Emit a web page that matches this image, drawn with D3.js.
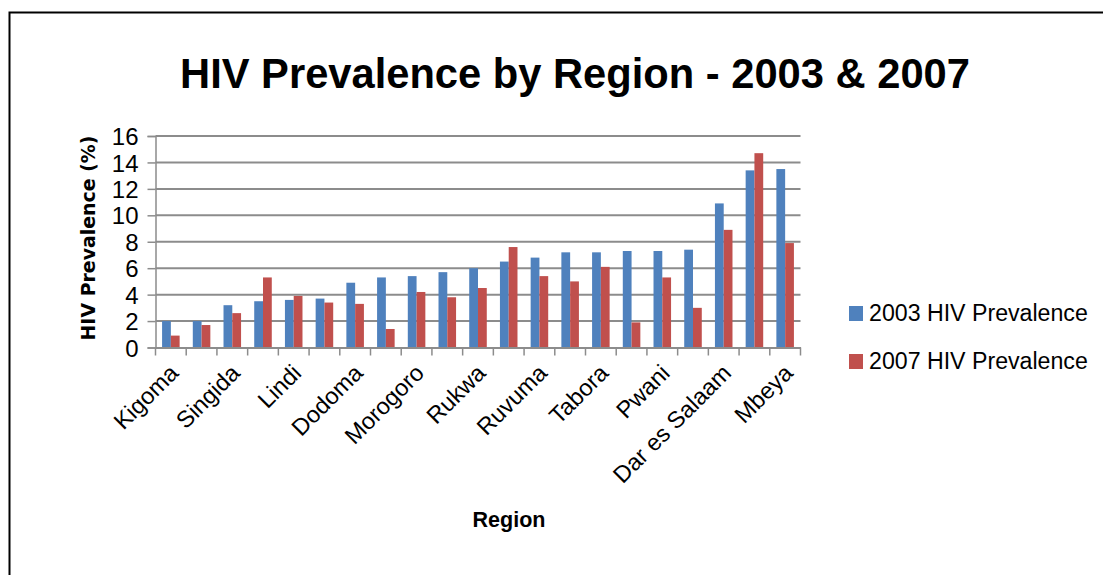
<!DOCTYPE html>
<html><head><meta charset="utf-8">
<script src="https://cdn.jsdelivr.net/npm/d3@7"></script>
<style>body{margin:0;background:#fff}svg{display:block}</style>
</head><body>
<svg id="chart" width="1103" height="575"></svg>
<script>
const regions = ["Kigoma","Manyara","Singida","Arusha","Lindi","Kagera","Dodoma","Mtwara","Morogoro","Tanga","Rukwa","Shinyanga","Ruvuma","Mwanza","Tabora","Kilimanjaro","Pwani","Mara","Dar es Salaam","Iringa","Mbeya"];
const shownLabels = ["Kigoma","Singida","Lindi","Dodoma","Morogoro","Rukwa","Ruvuma","Tabora","Pwani","Dar es Salaam","Mbeya"];
const prev2003 = [2.0,2.0,3.2,3.5,3.6,3.7,4.9,5.3,5.4,5.7,6.0,6.5,6.8,7.2,7.2,7.3,7.3,7.4,10.9,13.4,13.5];
const prev2007 = [0.9,1.7,2.6,5.3,3.9,3.4,3.3,1.4,4.2,3.8,4.5,7.6,5.4,5.0,6.1,1.9,5.3,3.0,8.9,14.7,7.9];
const seriesNames = ["2003 HIV Prevalence","2007 HIV Prevalence"];
const yTicks = [0,2,4,6,8,10,12,14,16];
const colors = ["#4F81BD","#C0504D"];

(function(){
const svg = d3.select("#chart");
const FONT = "'Liberation Sans', Arial, sans-serif";
const pL = 155.5, pR = 800.5, pT = 136, pB = 347.5;

function fit(sel, target){
  const w = sel.node().getComputedTextLength();
  const fs = parseFloat(sel.attr("font-size"));
  sel.attr("font-size", (fs*target/w).toFixed(2));
}

// chart border
svg.append("rect").attr("x",9.5).attr("y",12.5).attr("width",1200).attr("height",700)
  .attr("fill","none").attr("stroke","#000").attr("stroke-width",2);

const x = d3.scaleBand().domain(regions).range([pL,pR]).paddingInner(0).paddingOuter(0);
const y = d3.scaleLinear().domain([0,16]).range([pB,pT]);
const xs = d3.scaleBand().domain([0,1]).range([0,x.bandwidth()]).paddingInner(0).paddingOuter(0.75);

// gridlines
svg.append("g").selectAll("line").data(yTicks.filter(d=>d>0)).join("line")
  .attr("x1",pL).attr("x2",pR).attr("y1",d=>y(d)).attr("y2",d=>y(d))
  .attr("stroke","#8c8c8c").attr("stroke-width",2);

// y axis
const ya = svg.append("g").attr("transform",`translate(${pL},0)`)
  .call(d3.axisLeft(y).tickValues(yTicks).tickSize(8).tickPadding(9));
ya.select(".domain").attr("stroke","#8c8c8c").attr("stroke-width",1.5);
ya.selectAll(".tick line").attr("stroke","#8c8c8c").attr("stroke-width",1.5);
ya.selectAll(".tick text").attr("font-family",FONT).attr("font-size",24).attr("fill","#000").attr("dy","0.36em");

// bars
const g = svg.append("g");
[prev2003, prev2007].forEach((vals,si)=>{
  g.append("g").selectAll("rect").data(vals).join("rect")
    .attr("x",(d,i)=>x(regions[i])+xs(si))
    .attr("width",xs.bandwidth())
    .attr("y",d=>y(d))
    .attr("height",d=>y(0)-y(d))
    .attr("fill",colors[si]);
});

// x axis
const xa = svg.append("g").attr("transform",`translate(0,${pB})`)
  .call(d3.axisBottom(x).tickSize(0).tickFormat(d=>shownLabels.includes(d)?d:""));
xa.select(".domain").attr("stroke","#8c8c8c").attr("stroke-width",2);
xa.selectAll(".tick text").attr("font-family",FONT).attr("font-size",23.5).attr("fill","#000")
  .attr("text-anchor","end").attr("dy",0).attr("y",0)
  .attr("transform","translate(9,27) rotate(-45)");
// category boundary ticks
svg.append("g").selectAll("line").data(d3.range(regions.length+1)).join("line")
  .attr("x1",i=>pL+i*x.step()).attr("x2",i=>pL+i*x.step())
  .attr("y1",pB).attr("y2",pB+8)
  .attr("stroke","#8c8c8c").attr("stroke-width",1.5);

// title
const t = svg.append("text").attr("x",575).attr("y",88).attr("text-anchor","middle")
  .attr("font-family",FONT).attr("font-weight","bold").attr("font-size",38).attr("fill","#000")
  .text("HIV Prevalence by Region - 2003 & 2007");
fit(t,790);

// y title
const yt = svg.append("text").attr("transform","translate(95,238) rotate(-90)").attr("text-anchor","middle")
  .attr("font-family","'DejaVu Sans', Verdana, sans-serif").attr("font-weight","bold").attr("font-size",18).attr("fill","#000")
  .text("HIV Prevalence (%)");
fit(yt,205);

// x title
const xt = svg.append("text").attr("x",509).attr("y",527).attr("text-anchor","middle")
  .attr("font-family",FONT).attr("font-weight","bold").attr("font-size",20).attr("fill","#000")
  .text("Region");
fit(xt,73);

// legend
const lg = svg.append("g");
seriesNames.forEach((n,i)=>{
  const yy = 306 + i*48;
  lg.append("rect").attr("x",849).attr("y",yy).attr("width",14).attr("height",15).attr("fill",colors[i]);
  const tx = lg.append("text").attr("x",869).attr("y",yy+15).attr("font-family",FONT).attr("font-size",21).attr("fill","#000").text(n);
  fit(tx,219);
});
})();
</script>
</body></html>
